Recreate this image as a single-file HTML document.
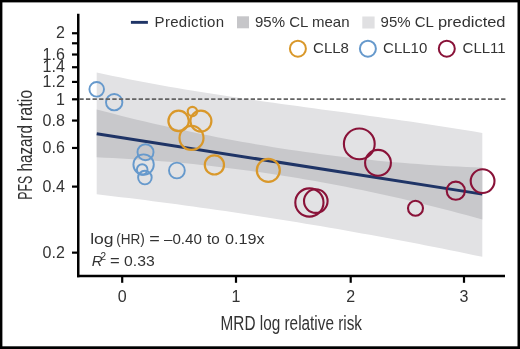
<!DOCTYPE html>
<html><head><meta charset="utf-8"><style>
html,body{margin:0;padding:0;background:#fff;}
svg{display:block;will-change:transform;}
</style></head><body>
<svg width="520" height="349" viewBox="0 0 520 349">
<rect x="0" y="0" width="520" height="349" fill="#000"/>
<rect x="2.4" y="2.4" width="515.1" height="343.9" fill="#fff"/>
<path d="M96.70,72.50 L104.73,74.25 L112.77,75.96 L120.80,77.61 L128.83,79.23 L136.87,80.80 L144.90,82.33 L152.93,83.83 L160.97,85.29 L169.00,86.71 L177.03,88.10 L185.07,89.46 L193.10,90.79 L201.13,92.09 L209.17,93.36 L217.20,94.61 L225.23,95.84 L233.27,97.05 L241.30,98.23 L249.33,99.40 L257.37,100.55 L265.40,101.69 L273.43,102.81 L281.47,103.93 L289.50,105.03 L297.53,106.12 L305.57,107.21 L313.60,108.30 L321.63,109.38 L329.67,110.46 L337.70,111.54 L345.73,112.62 L353.77,113.71 L361.80,114.80 L369.83,115.90 L377.87,117.01 L385.90,118.13 L393.93,119.26 L401.97,120.40 L410.00,121.56 L418.03,122.74 L426.07,123.94 L434.10,125.16 L442.13,126.39 L450.17,127.66 L458.20,128.95 L466.23,130.26 L474.27,131.61 L482.30,132.99 L482.30,256.81 L474.27,255.14 L466.23,253.48 L458.20,251.84 L450.17,250.21 L442.13,248.61 L434.10,247.01 L426.07,245.43 L418.03,243.87 L410.00,242.33 L401.97,240.79 L393.93,239.28 L385.90,237.78 L377.87,236.30 L369.83,234.83 L361.80,233.38 L353.77,231.94 L345.73,230.52 L337.70,229.12 L329.67,227.73 L321.63,226.35 L313.60,225.00 L305.57,223.65 L297.53,222.33 L289.50,221.02 L281.47,219.72 L273.43,218.44 L265.40,217.18 L257.37,215.93 L249.33,214.70 L241.30,213.49 L233.27,212.29 L225.23,211.10 L217.20,209.93 L209.17,208.78 L201.13,207.64 L193.10,206.52 L185.07,205.42 L177.03,204.33 L169.00,203.25 L160.97,202.19 L152.93,201.15 L144.90,200.12 L136.87,199.11 L128.83,198.12 L120.80,197.14 L112.77,196.17 L104.73,195.23 L96.70,194.29 Z" fill="#e2e2e4"/>
<path d="M96.70,109.42 L104.73,111.54 L112.77,113.62 L120.80,115.66 L128.83,117.67 L136.87,119.63 L144.90,121.56 L152.93,123.45 L160.97,125.30 L169.00,127.11 L177.03,128.88 L185.07,130.61 L193.10,132.31 L201.13,133.97 L209.17,135.58 L217.20,137.16 L225.23,138.70 L233.27,140.21 L241.30,141.67 L249.33,143.09 L257.37,144.48 L265.40,145.83 L273.43,147.14 L281.47,148.41 L289.50,149.64 L297.53,150.84 L305.57,151.99 L313.60,153.11 L321.63,154.18 L329.67,155.22 L337.70,156.22 L345.73,157.19 L353.77,158.11 L361.80,158.99 L369.83,159.84 L377.87,160.65 L385.90,161.42 L393.93,162.15 L401.97,162.84 L410.00,163.49 L418.03,164.11 L426.07,164.68 L434.10,165.22 L442.13,165.72 L450.17,166.18 L458.20,166.60 L466.23,166.99 L474.27,167.33 L482.30,167.64 L482.30,219.60 L474.27,217.34 L466.23,215.12 L458.20,212.95 L450.17,210.82 L442.13,208.72 L434.10,206.67 L426.07,204.66 L418.03,202.69 L410.00,200.76 L401.97,198.87 L393.93,197.02 L385.90,195.22 L377.87,193.45 L369.83,191.73 L361.80,190.04 L353.77,188.40 L345.73,186.79 L337.70,185.23 L329.67,183.71 L321.63,182.23 L313.60,180.79 L305.57,179.39 L297.53,178.03 L289.50,176.72 L281.47,175.44 L273.43,174.21 L265.40,173.01 L257.37,171.86 L249.33,170.74 L241.30,169.67 L233.27,168.64 L225.23,167.65 L217.20,166.70 L209.17,165.79 L201.13,164.92 L193.10,164.10 L185.07,163.31 L177.03,162.57 L169.00,161.86 L160.97,161.20 L152.93,160.57 L144.90,159.99 L136.87,159.45 L128.83,158.95 L120.80,158.49 L112.77,158.07 L104.73,157.69 L96.70,157.36 Z" fill="#c8c8cb"/>
<line x1="96.7" y1="133.75" x2="482.3" y2="194.13" stroke="#1f3466" stroke-width="3"/>
<circle cx="96.7" cy="89.3" r="7.3" fill="none" stroke="#6699cc" stroke-width="1.9"/>
<circle cx="114.2" cy="102.2" r="8.2" fill="none" stroke="#6699cc" stroke-width="1.9"/>
<circle cx="145.5" cy="152.2" r="8.0" fill="none" stroke="#6699cc" stroke-width="1.9"/>
<circle cx="143.6" cy="164.6" r="10.2" fill="none" stroke="#6699cc" stroke-width="1.9"/>
<circle cx="142.2" cy="169.5" r="5.3" fill="none" stroke="#6699cc" stroke-width="1.9"/>
<circle cx="144.9" cy="177.6" r="6.8" fill="none" stroke="#6699cc" stroke-width="1.9"/>
<circle cx="176.9" cy="170.5" r="7.9" fill="none" stroke="#6699cc" stroke-width="1.9"/>
<circle cx="178.6" cy="120.9" r="10.2" fill="none" stroke="#d9982a" stroke-width="2.2"/>
<circle cx="192.4" cy="111.5" r="4.7" fill="none" stroke="#d9982a" stroke-width="2.2"/>
<circle cx="200.9" cy="121.1" r="10.5" fill="none" stroke="#d9982a" stroke-width="2.2"/>
<circle cx="191.5" cy="137.9" r="12" fill="none" stroke="#d9982a" stroke-width="2.2"/>
<circle cx="214.4" cy="164.9" r="9.6" fill="none" stroke="#d9982a" stroke-width="2.2"/>
<circle cx="268.3" cy="170.3" r="11.5" fill="none" stroke="#d9982a" stroke-width="2.2"/>
<circle cx="359.3" cy="143.9" r="15.4" fill="none" stroke="#891238" stroke-width="2.1"/>
<circle cx="378" cy="162.8" r="12.9" fill="none" stroke="#891238" stroke-width="2.1"/>
<circle cx="309.4" cy="202.5" r="14.1" fill="none" stroke="#891238" stroke-width="2.1"/>
<circle cx="315.8" cy="201.1" r="11.8" fill="none" stroke="#891238" stroke-width="2.1"/>
<circle cx="415.5" cy="208.2" r="7.5" fill="none" stroke="#891238" stroke-width="2.1"/>
<circle cx="455.8" cy="190.7" r="9.1" fill="none" stroke="#891238" stroke-width="2.1"/>
<circle cx="482.6" cy="181.1" r="11.9" fill="none" stroke="#891238" stroke-width="2.1"/>
<line x1="79.6" y1="99.1" x2="506" y2="99.1" stroke="#636363" stroke-width="1.8" stroke-dasharray="4.35 2.24" stroke-dashoffset="0.26"/>
<line x1="78.25" y1="13.8" x2="78.25" y2="277.3" stroke="#000" stroke-width="2.5"/>
<line x1="77" y1="276" x2="505" y2="276" stroke="#000" stroke-width="2.6"/>
<line x1="72" y1="33.25" x2="78" y2="33.25" stroke="#000" stroke-width="2.2"/>
<text x="64.8" y="38.45" text-anchor="end" font-family="Liberation Sans, sans-serif" font-size="16" fill="#333">2</text>
<line x1="72" y1="43.29" x2="78" y2="43.29" stroke="#000" stroke-width="2.2"/>
<line x1="72" y1="54.52" x2="78" y2="54.52" stroke="#000" stroke-width="2.2"/>
<text x="64.8" y="59.72" text-anchor="end" font-family="Liberation Sans, sans-serif" font-size="16" fill="#333">1.6</text>
<line x1="72" y1="67.24" x2="78" y2="67.24" stroke="#000" stroke-width="2.2"/>
<text x="64.8" y="72.44" text-anchor="end" font-family="Liberation Sans, sans-serif" font-size="16" fill="#333">1.4</text>
<line x1="72" y1="81.93" x2="78" y2="81.93" stroke="#000" stroke-width="2.2"/>
<text x="64.8" y="87.13" text-anchor="end" font-family="Liberation Sans, sans-serif" font-size="16" fill="#333">1.2</text>
<line x1="72" y1="99.30" x2="78" y2="99.30" stroke="#000" stroke-width="2.2"/>
<text x="64.8" y="104.50" text-anchor="end" font-family="Liberation Sans, sans-serif" font-size="16" fill="#333">1</text>
<line x1="72" y1="120.56" x2="78" y2="120.56" stroke="#000" stroke-width="2.2"/>
<text x="64.8" y="125.76" text-anchor="end" font-family="Liberation Sans, sans-serif" font-size="16" fill="#333">0.8</text>
<line x1="72" y1="147.97" x2="78" y2="147.97" stroke="#000" stroke-width="2.2"/>
<text x="64.8" y="153.17" text-anchor="end" font-family="Liberation Sans, sans-serif" font-size="16" fill="#333">0.6</text>
<line x1="72" y1="186.61" x2="78" y2="186.61" stroke="#000" stroke-width="2.2"/>
<text x="64.8" y="191.81" text-anchor="end" font-family="Liberation Sans, sans-serif" font-size="16" fill="#333">0.4</text>
<line x1="72" y1="252.65" x2="78" y2="252.65" stroke="#000" stroke-width="2.2"/>
<text x="64.8" y="257.85" text-anchor="end" font-family="Liberation Sans, sans-serif" font-size="16" fill="#333">0.2</text>
<line x1="122.2" y1="276" x2="122.2" y2="282.8" stroke="#000" stroke-width="2.2"/>
<text x="122.2" y="302.4" text-anchor="middle" font-family="Liberation Sans, sans-serif" font-size="16" fill="#333">0</text>
<line x1="236.0" y1="276" x2="236.0" y2="282.8" stroke="#000" stroke-width="2.2"/>
<text x="236.0" y="302.4" text-anchor="middle" font-family="Liberation Sans, sans-serif" font-size="16" fill="#333">1</text>
<line x1="350.7" y1="276" x2="350.7" y2="282.8" stroke="#000" stroke-width="2.2"/>
<text x="350.7" y="302.4" text-anchor="middle" font-family="Liberation Sans, sans-serif" font-size="16" fill="#333">2</text>
<line x1="464.0" y1="276" x2="464.0" y2="282.8" stroke="#000" stroke-width="2.2"/>
<text x="464.0" y="302.4" text-anchor="middle" font-family="Liberation Sans, sans-serif" font-size="16" fill="#333">3</text>
<text x="-0.4" y="0" transform="translate(32.1,199.3) rotate(-90)" font-family="Liberation Sans, sans-serif" font-size="19.6" textLength="23.9" lengthAdjust="spacingAndGlyphs" fill="#333">PFS</text>
<text x="27.8" y="0" transform="translate(32.1,199.3) rotate(-90)" font-family="Liberation Sans, sans-serif" font-size="19.6" textLength="46.6" lengthAdjust="spacingAndGlyphs" fill="#333">hazard</text>
<text x="78.3" y="0" transform="translate(32.1,199.3) rotate(-90)" font-family="Liberation Sans, sans-serif" font-size="19.6" textLength="31.3" lengthAdjust="spacingAndGlyphs" fill="#333">ratio</text>
<text x="0" y="0" transform="translate(220.6,329.7) scale(0.795,1)" font-family="Liberation Sans, sans-serif" font-size="19.3" fill="#333">MRD log relative risk</text>
<text x="90.22" y="243.8" font-family="Liberation Sans, sans-serif" font-size="15" textLength="23.42" lengthAdjust="spacingAndGlyphs"  fill="#333">log</text>
<text x="116.28" y="243.8" font-family="Liberation Sans, sans-serif" font-size="15" textLength="28.56" lengthAdjust="spacingAndGlyphs"  fill="#333">(HR)</text>
<text x="149.26" y="243.8" font-family="Liberation Sans, sans-serif" font-size="15" textLength="10.52" lengthAdjust="spacingAndGlyphs"  fill="#333">=</text>
<text x="164.04" y="243.8" font-family="Liberation Sans, sans-serif" font-size="15" textLength="37.82" lengthAdjust="spacingAndGlyphs"  fill="#333">–0.40</text>
<text x="207.12" y="243.8" font-family="Liberation Sans, sans-serif" font-size="15" textLength="12.72" lengthAdjust="spacingAndGlyphs"  fill="#333">to</text>
<text x="225.12" y="243.8" font-family="Liberation Sans, sans-serif" font-size="15" textLength="39.62" lengthAdjust="spacingAndGlyphs"  fill="#333">0.19x</text>
<text x="91.80" y="266" font-family="Liberation Sans, sans-serif" font-size="15" font-style="italic" fill="#333">R</text>
<text x="100.60" y="259.6" font-family="Liberation Sans, sans-serif" font-size="10"  fill="#333">2</text>
<text x="110.12" y="266" font-family="Liberation Sans, sans-serif" font-size="15" textLength="9.70" lengthAdjust="spacingAndGlyphs"  fill="#333">=</text>
<text x="124.10" y="266" font-family="Liberation Sans, sans-serif" font-size="15" textLength="30.64" lengthAdjust="spacingAndGlyphs"  fill="#333">0.33</text>
<line x1="130.9" y1="22.35" x2="147.9" y2="22.35" stroke="#1f3466" stroke-width="2.9"/>
<text x="154.6" y="26.5" font-family="Liberation Sans, sans-serif" font-size="15" letter-spacing="0.3" fill="#333">Prediction</text>
<rect x="237" y="16.3" width="12" height="12" fill="#c6c6c9"/>
<text x="255" y="26.8" font-family="Liberation Sans, sans-serif" font-size="15" fill="#333">95% CL mean</text>
<rect x="362.3" y="16.5" width="12.3" height="12" fill="#e0e0e2"/>
<text x="380.6" y="26.8" font-family="Liberation Sans, sans-serif" font-size="15" fill="#333">95% CL</text>
<text x="437.9" y="26.8" font-family="Liberation Sans, sans-serif" font-size="15" textLength="67.6" lengthAdjust="spacingAndGlyphs" fill="#333">predicted</text>
<circle cx="297.9" cy="48.7" r="8" fill="none" stroke="#d9982a" stroke-width="2"/>
<text x="313.1" y="53.2" font-family="Liberation Sans, sans-serif" font-size="15" fill="#333">CLL8</text>
<circle cx="367.9" cy="48.7" r="8" fill="none" stroke="#6699cc" stroke-width="2"/>
<text x="383.1" y="53.2" font-family="Liberation Sans, sans-serif" font-size="15" fill="#333">CLL10</text>
<circle cx="446.8" cy="48.7" r="8" fill="none" stroke="#891238" stroke-width="2"/>
<text x="462.6" y="53.2" font-family="Liberation Sans, sans-serif" font-size="15" fill="#333">CLL11</text>
</svg>
</body></html>
